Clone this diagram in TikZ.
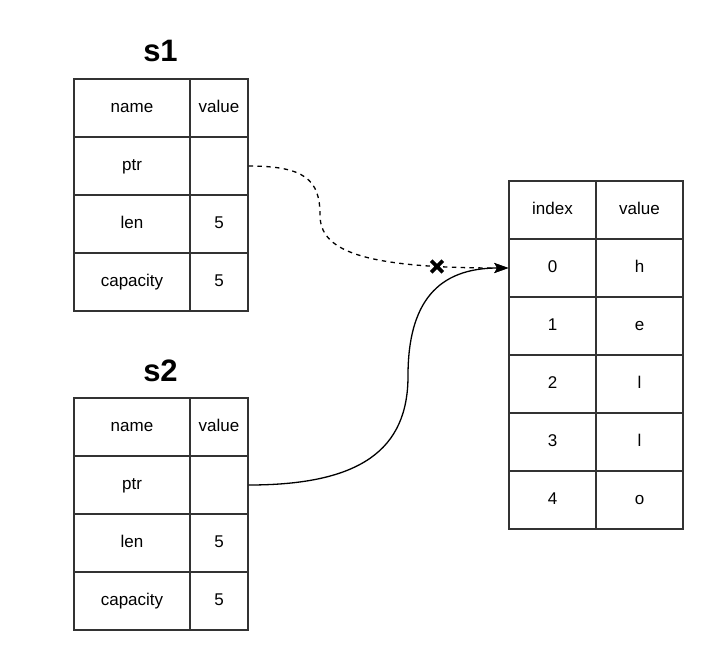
\documentclass[tikz,border=0pt]{standalone}
\usepackage{fontspec}
\setmainfont{Liberation Sans}
\usetikzlibrary{arrows.meta}
\definecolor{edge}{HTML}{333333}
\tikzset{
  cell/.style={draw=edge, line width=1.4pt, minimum height=58pt, inner sep=0pt, text height=12.3pt, text depth=3.6pt, font=\fontsize{17}{20}\selectfont},
  namecell/.style={cell, minimum width=116pt},
  valcell/.style={cell, minimum width=58pt},
  arrcell/.style={cell, minimum width=87pt},
  title/.style={font=\fontsize{31}{36}\selectfont\bfseries, inner sep=0pt, anchor=base},
  link/.style={line width=1.3pt, -{Stealth[length=14pt, width=10pt, inset=3pt]}},
}
\begin{document}
\begin{tikzpicture}[x=1pt, y=-1pt]
\useasboundingbox (0,0) rectangle (724,662);
% s1
\node[title] (s1t) at (160.5,61) {s1};
\node[namecell] (s1n0) at (132,108) {name};
\node[valcell]  (s1v0) at (219,108) {value};
\node[namecell] (s1n1) at (132,166) {ptr};
\node[valcell]  (s1v1) at (219,166) {};
\node[namecell] (s1n2) at (132,224) {len};
\node[valcell]  (s1v2) at (219,224) {5};
\node[namecell] (s1n3) at (132,282) {capacity};
\node[valcell]  (s1v3) at (219,282) {5};
% s2
\node[title] (s2t) at (160.5,381) {s2};
\node[namecell] (s2n0) at (132,427) {name};
\node[valcell]  (s2v0) at (219,427) {value};
\node[namecell] (s2n1) at (132,485) {ptr};
\node[valcell]  (s2v1) at (219,485) {};
\node[namecell] (s2n2) at (132,543) {len};
\node[valcell]  (s2v2) at (219,543) {5};
\node[namecell] (s2n3) at (132,601) {capacity};
\node[valcell]  (s2v3) at (219,601) {5};
% heap array
\node[arrcell] (hi) at (552.5,210) {index};
\node[arrcell] (hv) at (639.5,210) {value};
\node[arrcell] (h0) at (552.5,268) {0};
\node[arrcell] (c0) at (639.5,268) {h};
\node[arrcell] (h1) at (552.5,326) {1};
\node[arrcell] (c1) at (639.5,326) {e};
\node[arrcell] (h2) at (552.5,384) {2};
\node[arrcell] (c2) at (639.5,384) {l};
\node[arrcell] (h3) at (552.5,442) {3};
\node[arrcell] (c3) at (639.5,442) {l};
\node[arrcell] (h4) at (552.5,500) {4};
\node[arrcell] (c4) at (639.5,500) {o};
% connectors
\coordinate (m1) at (320,215);
\coordinate (m2) at (408,376);
\draw[link, dash pattern=on 4.4pt off 4.4pt] (s1v1.east) .. controls (305,166) and (320,180) .. (m1)
   .. controls (320,250) and (360,268) .. (h0.west);
\draw[link] (s2v1.east) .. controls (360,485) and (408,450) .. (m2)
   .. controls (408,302) and (438,268) .. (h0.west);
% invalidation mark
\coordinate (x0) at (437,266.5);
\draw[line width=3.8pt] ([shift={(-5.8,-5.8)}]x0) -- ([shift={(5.8,5.8)}]x0)
  ([shift={(-5.8,5.8)}]x0) -- ([shift={(5.8,-5.8)}]x0);
\end{tikzpicture}
\end{document}
